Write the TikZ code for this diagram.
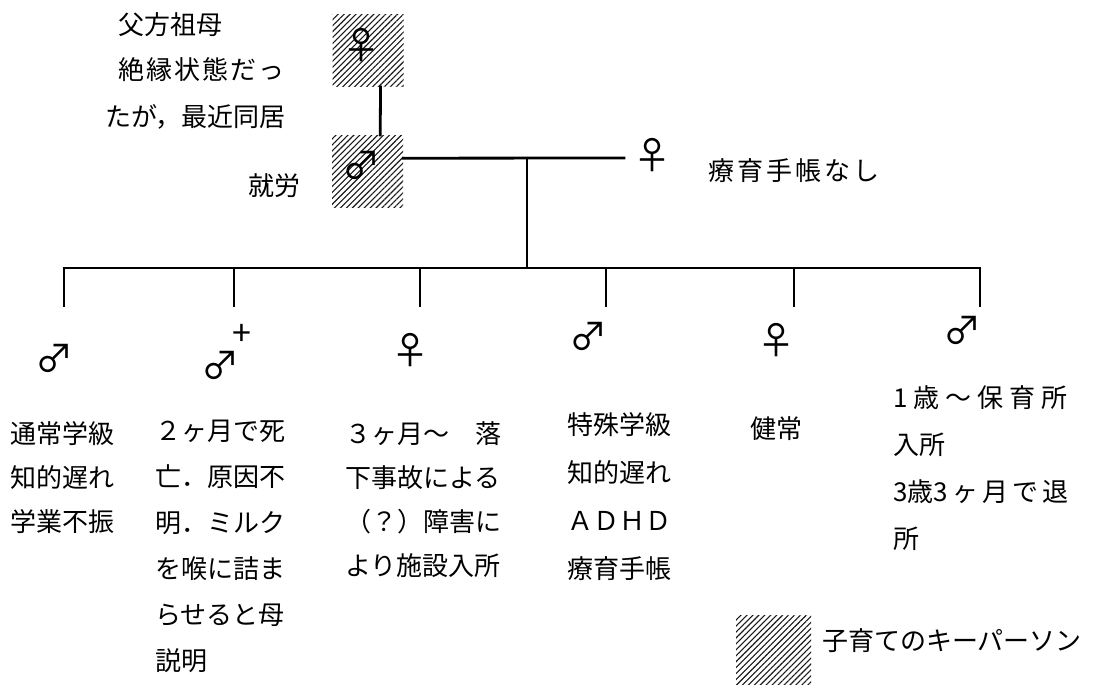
\documentclass[tikz,border=0pt]{standalone}
\usepackage{fontspec}
\setmainfont{Noto Sans CJK JP}
\usetikzlibrary{patterns.meta}
\tikzset{
  link/.style={line width=2.8pt, line cap=rect},
  keybox/.style={pattern={Lines[angle=45,distance=4.2pt,line width=1.1pt]}, pattern color=black!90, draw=none, minimum width=71pt, minimum height=72pt, inner sep=0pt, anchor=north west},
  sym/.style={font=\fontsize{38}{38}\selectfont, inner sep=0pt},
  lbl/.style={inner sep=0pt, anchor=north west, align=left},
}
\newcommand{\gp}{\kern6pt}
\newcommand{\gq}{\kern4pt}
\begin{document}
\begin{tikzpicture}[x=1pt,y=-1pt]
\useasboundingbox (0,0) rectangle (1104,685);
\fill[white] (0,0) rectangle (1104,685);
% key persons
\node[keybox] (gmbox) at (332,14) {};
\node[keybox] (fbox) at (332,135) {};
\node[sym] (gm) at (361,45) {♀};
\node[sym] (fa) at (361,165) {♂};
\node[sym] (mo) at (652,155) {♀};
% top labels
\node[lbl, font=\fontsize{26}{26}\selectfont] (tgm1) at (118,12) {父方祖母};
\node[lbl, font=\fontsize{26}{26}\selectfont] (tgm2) at (118,57) {絶\kern2pt 縁\kern2pt 状\kern2pt 態\kern2pt だ\kern2pt っ};
\node[lbl, font=\fontsize{26}{26}\selectfont] (tgm3) at (105,104) {たが，最近同居};
\node[lbl, font=\fontsize{26}{26}\selectfont] (tfa) at (248,173) {就労};
\node[lbl, font=\fontsize{26}{26}\selectfont] (tmo) at (708,158) {療\kern3pt 育\kern3pt 手\kern3pt 帳\kern3pt な\kern3pt し};
% connectors between parents
\draw[link] ([xshift=12.5pt]gmbox.south) -- ([xshift=12.5pt]fbox.north);
\coordinate (mR) at (624,158);
\coordinate (desc) at (527,158);
\coordinate (sib) at (527,268);
\draw[link] ([yshift=13pt]fbox.east) -- (mR);
\draw[link] (desc) -- (sib);
% sibling bar
\foreach \i/\x in {1/64,2/234,3/420,4/606,5/794,6/980}{
  \coordinate (b\i) at (\x,268);
  \coordinate (e\i) at (\x,306);
}
\draw[link] (b1) -- (b6);
\foreach \i in {1,...,6}{\draw[link] (b\i) -- (e\i);}
% children
\node[sym] (c1) at (54,358) {♂};
\node[sym] (c2) at (220,365) {♂};
\node[inner sep=0pt, font=\fontsize{34}{34}\selectfont] (dead) at (242,335) {+};
\node[sym] (c3) at (410,350) {♀};
\node[sym] (c4) at (588,336) {♂};
\node[sym] (c5) at (776,340) {♀};
\node[sym] (c6) at (962,330) {♂};
% child texts
\node[lbl, font=\fontsize{26}{44}\selectfont] (t1) at (10,421) {通常学級\\知的遅れ\\学業不振};
\node[lbl, font=\fontsize{26}{46}\selectfont] (t2) at (155,420) {２ヶ月で死\\亡．原因不\\明．ミルク\\を喉に詰ま\\らせると母\\説明};
\node[lbl, font=\fontsize{26}{44}\selectfont] (t3) at (345,421) {３ヶ月～　落\\下事故による\\（？）障害に\\より施設入所};
\node[lbl, font=\fontsize{26}{48}\selectfont] (t4) at (567,412) {特殊学級\\知的遅れ\\ＡＤＨＤ\\療育手帳};
\node[lbl, font=\fontsize{26}{26}\selectfont] (t5) at (750,416) {健常};
\node[lbl, font=\fontsize{26}{47}\selectfont] (t6) at (893,385) {1\gp 歳\gp ～\gp 保\gp 育\gp 所\\入所\\3歳3\gq ヶ\gq 月\gq で\gq 退\\所};
% legend
\node[keybox, minimum width=75pt, minimum height=70pt] (lgbox) at (736,615) {};
\node[lbl, font=\fontsize{26}{26}\selectfont] (lgtext) at (822,628) {子育てのキーパーソン};
\end{tikzpicture}
\end{document}
